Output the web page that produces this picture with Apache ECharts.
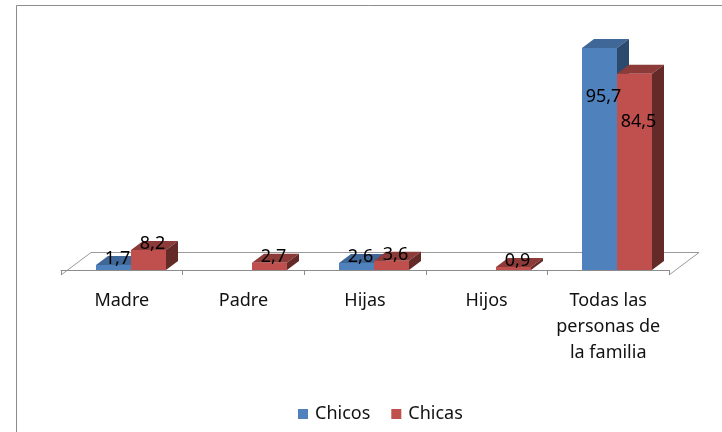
<!DOCTYPE html>
<html>
<head>
<meta charset="utf-8">
<style>html,body{margin:0;padding:0;background:#fff}#c{width:722px;height:432px}</style>
<script src="https://cdn.jsdelivr.net/npm/echarts@6/dist/echarts.min.js"></script>
</head>
<body>
<div id="c"></div>
<script>
var categories = ['Madre', 'Padre', 'Hijas', 'Hijos', 'Todas las\npersonas de\nla familia'];
var chicos = [1.7, null, 2.6, null, 95.7];
var chicas = [8.2, 2.7, 3.6, 0.9, 84.5];

var FONT = '"Noto Sans", sans-serif';
var DEPTH_X = 12, DEPTH_Y = 9, BAR_W = 35;

function makeRender(side, front, topC, sideC) {
  return function (params, api) {
    var v = api.value(1);
    if (v === null || v === undefined || isNaN(v)) return null;
    var c = api.coord([api.value(0), v]);
    var b = api.coord([api.value(0), 0]);
    var x0 = Math.round(c[0] + (side === 0 ? -26 : 9));
    var x1 = x0 + BAR_W;
    var y0 = c[1] - 1, y1 = b[1];
    var labelY = v > 50 ? y0 + 48.5 : y0 - 6;
    return {
      type: 'group',
      children: [
        { type: 'polygon', shape: { points: [[x0, y0], [x0 + DEPTH_X, y0 - DEPTH_Y], [x1 + DEPTH_X, y0 - DEPTH_Y], [x1, y0]] }, style: { fill: topC } },
        { type: 'polygon', shape: { points: [[x1, y0], [x1 + DEPTH_X, y0 - DEPTH_Y], [x1 + DEPTH_X, y1 - DEPTH_Y], [x1, y1]] }, style: { fill: sideC } },
        { type: 'rect', shape: { x: x0, y: y0, width: BAR_W, height: y1 - y0 }, style: { fill: front } },
        { type: 'text', z2: 100, style: { text: String(v).replace('.', ','), x: (x0 + x1) / 2 + 4, y: labelY, align: 'center', verticalAlign: 'middle', fill: '#000', font: '18px ' + FONT } }
      ]
    };
  };
}

function toData(arr) {
  return arr.map(function (v, i) { return [i, v]; });
}

var chart = echarts.init(document.getElementById('c'), null, { renderer: 'canvas' });
chart.setOption({
  animation: false,
  backgroundColor: '#fff',
  grid: { left: 61, width: 608, top: 39, height: 231 },
  xAxis: {
    type: 'category',
    data: categories,
    offset: 5,
    axisLine: { lineStyle: { color: '#8c8c8c', width: 1 } },
    axisTick: { show: true, length: 5, lineStyle: { color: '#8c8c8c' } },
    axisLabel: { interval: 0, margin: 13, color: '#111', fontFamily: FONT, fontSize: 18, lineHeight: 26 }
  },
  yAxis: { type: 'value', min: 0, max: 100, show: false },
  legend: {
    left: 293, top: 400, itemWidth: 10, itemHeight: 10, itemGap: 21,
    icon: 'rect',
    textStyle: { color: '#111', fontFamily: FONT, fontSize: 18, padding: [0, 0, 0, 2] },
    data: ['Chicos', 'Chicas']
  },
  graphic: [
    { type: 'polyline', silent: true, shape: { points: [[16.5, 432], [16.5, 5.5], [722, 5.5]] }, style: { stroke: '#8c8c8c', fill: null, lineWidth: 1 } },
    { type: 'polyline', silent: true, shape: { points: [[61, 275], [91, 252.5], [699, 252.5], [669, 275]] }, style: { stroke: '#9a9a9a', fill: null, lineWidth: 1 } }
  ],
  series: [
    { name: 'Chicos', type: 'custom', data: toData(chicos), encode: { x: 0, y: 1 }, itemStyle: { color: '#4F81BD' }, renderItem: makeRender(0, '#4F81BD', '#3F6797', '#2C4A6E') },
    { name: 'Chicas', type: 'custom', data: toData(chicas), encode: { x: 0, y: 1 }, itemStyle: { color: '#C0504D' }, renderItem: makeRender(1, '#C0504D', '#8C3B39', '#632A28') }
  ]
});
</script>
</body>
</html>
